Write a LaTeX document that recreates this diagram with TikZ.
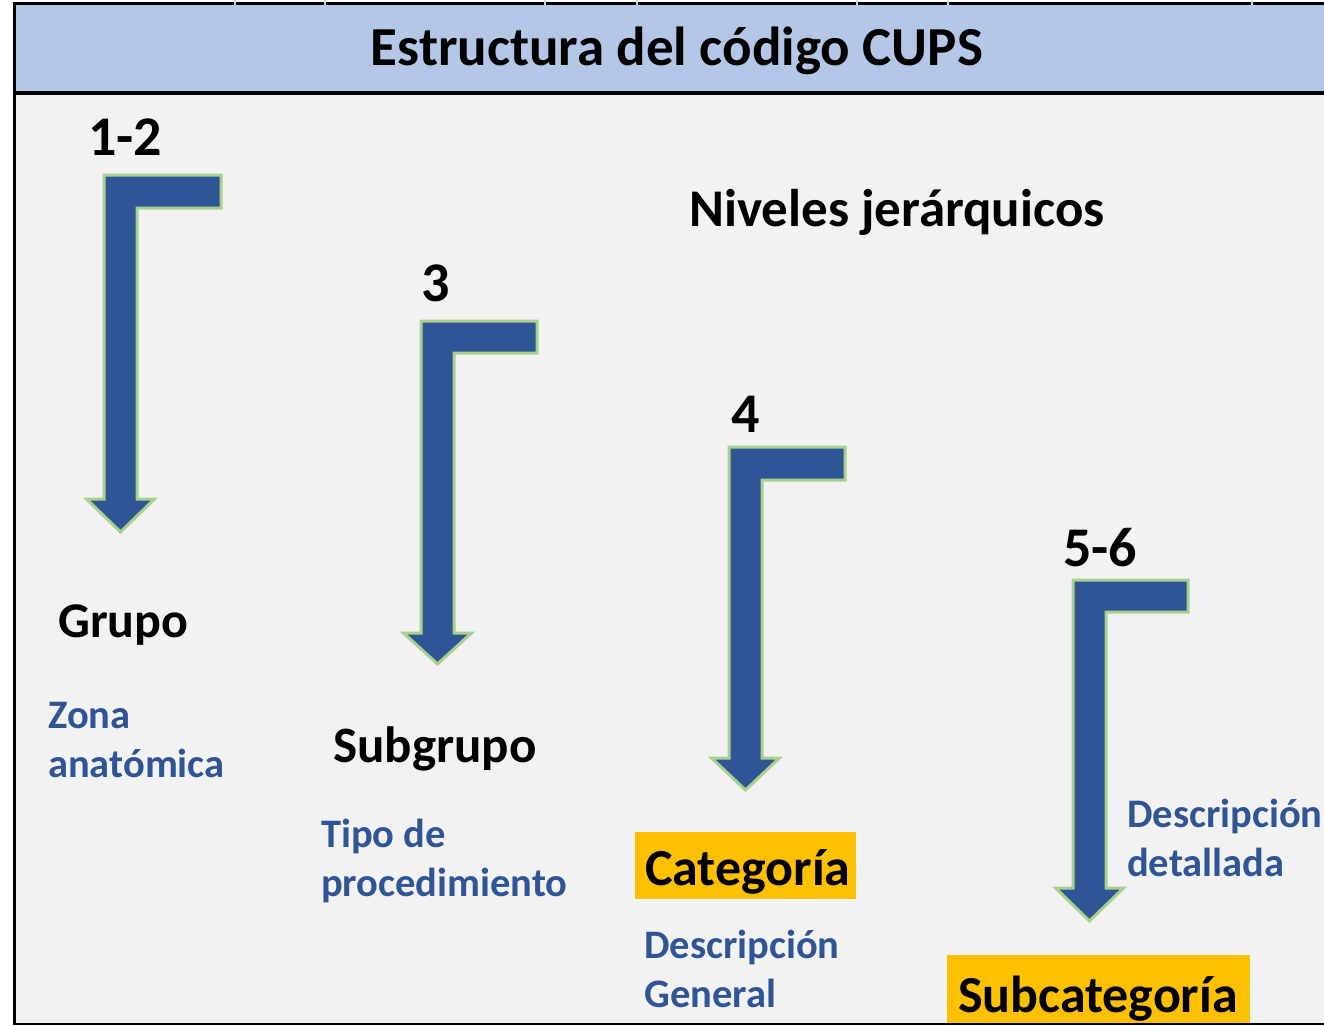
\documentclass[tikz,border=0pt]{standalone}
\usepackage{fontspec}
\setmainfont{Carlito}
\definecolor{hdr}{HTML}{B4C7E7}
\definecolor{bodybg}{HTML}{F2F2F2}
\definecolor{arrblue}{HTML}{2F5597}
\definecolor{arrgreen}{HTML}{A9D18E}
\definecolor{txtblue}{HTML}{2F5597}
\definecolor{orangebox}{HTML}{FFC000}
\tikzset{
  bigtxt/.style={anchor=base west, inner sep=0pt, font=\bfseries\fontsize{52}{60}\selectfont},
  numtxt/.style={anchor=base west, inner sep=0pt, font=\bfseries\fontsize{56}{60}\selectfont},
  bluetxt/.style={anchor=base west, inner sep=0pt, text=txtblue, font=\bfseries\fontsize{40.5}{49}\selectfont},
  bentarrow/.style={fill=arrblue, draw=arrgreen, line width=3pt, line join=miter},
}
\newcommand{\bentarr}[6]{% L T R B H Y
  \draw[bentarrow] (#1,#2) -- (#3,#2) -- (#3,#4) -- (#1+33,#4) -- (#1+33,#5)
    -- (#1+16.5+34,#5) -- (#1+16.5,#6) -- (#1+16.5-34,#5) -- (#1,#5) -- cycle;}
\begin{document}
\begin{tikzpicture}[x=1pt,y=-1pt]
\useasboundingbox (0,0) rectangle (1324,1025);
\fill[white] (0,0) rectangle (1324,1025);
% body and header
\fill[bodybg] (14,94) rectangle (1324,1023);
\fill[hdr] (14,4) rectangle (1324,93);
\draw[line width=3pt] (13,4) -- (1324,4);
\draw[line width=4pt] (14,93) -- (1324,93);
\draw[line width=3pt] (14.5,3) -- (14.5,1024);
\draw[line width=2pt] (13,1023.5) -- (1324,1023.5);
\foreach \xx in {235,325,545,637,857,948,1252}
  \draw[white!85!black, line width=1.5pt] (\xx,0) -- (\xx,5);
% title
\node[anchor=base, inner sep=0pt, font=\bfseries\fontsize{55}{60}\selectfont] (title) at (677,66) {Estructura del código CUPS};
% arrows
\bentarr{104}{175}{221}{208}{499}{532}
\bentarr{421}{321}{537}{353}{633}{664}
\bentarr{729}{447}{845}{480}{758}{790}
\bentarr{1073}{580}{1188}{612}{888}{921}
% numbers
\node[numtxt] (n12) at (88,155) {1-2};
\node[numtxt] (n3) at (421,301) {3};
\node[numtxt] (n4) at (731,432) {4};
\node[numtxt] (n56) at (1063,566) {5-6};
\node[bigtxt, font=\bfseries\fontsize{53}{60}\selectfont] (niv) at (689,226) {Niveles jerárquicos};
% labels
\node[bigtxt, font=\bfseries\fontsize{50}{60}\selectfont] (grupo) at (58,637) {Grupo};
\node[bluetxt] (zona1) at (48,728) {Zona};
\node[bluetxt] (zona2) at (48,777) {anatómica};
\node[bigtxt, font=\bfseries\fontsize{51}{60}\selectfont] (subgrupo) at (333,762) {Subgrupo};
\node[bluetxt] (tipo1) at (321,847) {Tipo de};
\node[bluetxt] (tipo2) at (321,896) {procedimiento};
\fill[orangebox] (635,832) rectangle (856,899);
\node[bigtxt] (cat) at (645,885) {Categoría};
\node[bluetxt] (descg1) at (644,958) {Descripción};
\node[bluetxt] (descg2) at (644,1007) {General};
\node[bluetxt] (descd1) at (1127,827) {Descripción};
\node[bluetxt] (descd2) at (1127,876) {detallada};
\fill[orangebox] (947,955) rectangle (1250,1022.5);
\node[bigtxt] (subcat) at (958,1012) {Subcategoría};
\end{tikzpicture}
\end{document}
